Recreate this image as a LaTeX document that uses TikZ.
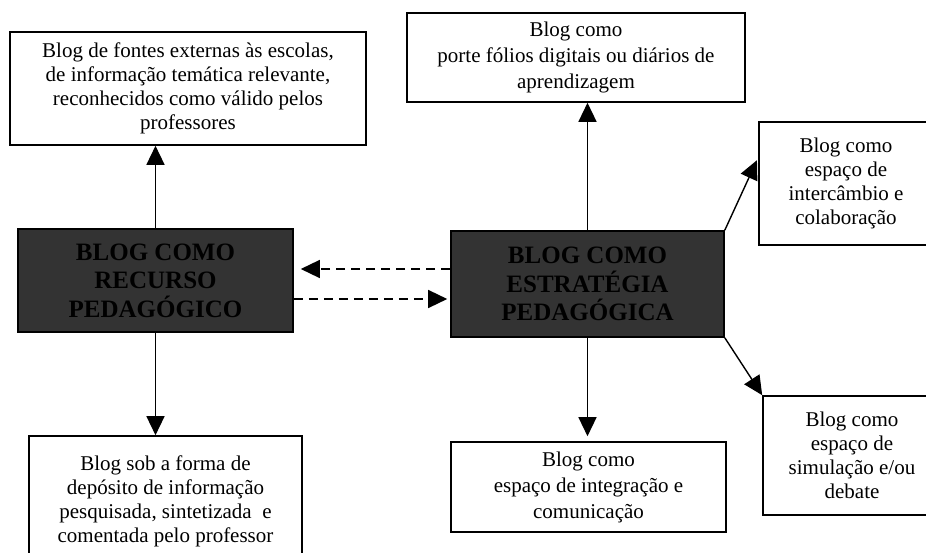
\documentclass[tikz,border=0pt]{standalone}
\usepackage{fontspec}
\setmainfont{Liberation Serif}
\usetikzlibrary{arrows.meta}
\definecolor{blogdark}{HTML}{333333}
\begin{document}
\begin{tikzpicture}[x=1pt,y=-1pt,
    caixa/.style={draw, line width=1.6pt, align=center, inner sep=0pt,
      font=\fontsize{21}{24}\selectfont},
    larga/.style={caixa, font=\fontsize{21}{26}\selectfont},
    central/.style={caixa, fill=blogdark, font=\fontsize{25}{28.5}\selectfont\bfseries},
    seta/.style={-{Triangle[length=19pt,width=18pt]}, line width=1.4pt},
    tracejada/.style={seta, dash pattern=on 9pt off 6pt}]
\useasboundingbox (0,0) rectangle (926,553);
\clip (0,0) rectangle (926,553);
% the two central blocks
\node[central, minimum width=275pt, minimum height=103pt] (recurso) at (155.5,280.5)
  {BLOG COMO\\RECURSO\\PEDAGÓGICO};
\node[central, minimum width=273pt, minimum height=106pt] (estrategia) at (587.5,284)
  {BLOG COMO\\ESTRATÉGIA\\PEDAGÓGICA};
% outer boxes
\node[caixa, minimum width=356pt, minimum height=113pt] (fontes) at (188,88.5)
  {Blog de fontes externas às escolas,\\de informação temática relevante,\\reconhecidos como válido pelos\\professores};
\node[caixa, minimum width=273pt, minimum height=130pt] (deposito) at (165.5,501)
  {Blog sob a forma de\\depósito de informação\\pesquisada, sintetizada\ \ e\\comentada pelo professor};
\node[larga, minimum width=338pt, minimum height=89pt] (portfolio) at (576,57.5)
  {Blog como\\porte fólios digitais ou diários de\\aprendizagem};
\node[caixa, minimum width=174pt, minimum height=123pt] (intercambio) at (846,183.5)
  {Blog como\\espaço de\\intercâmbio e\\colaboração};
\node[caixa, minimum width=178pt, minimum height=119pt] (simulacao) at (852,455.5)
  {Blog como\\espaço de\\simulação e/ou\\debate};
\node[larga, minimum width=275pt, minimum height=90pt] (integracao) at (588.5,487)
  {Blog como\\espaço de integração e\\comunicação};
% connectors
\draw[seta] (recurso.north) -- (recurso.north |- fontes.south);
\draw[seta] (recurso.south) -- (recurso.south |- deposito.north);
\draw[tracejada, shorten >=7pt] ([yshift=15pt]estrategia.west) -- ([yshift=15pt]estrategia.west -| recurso.east);
\draw[tracejada, shorten >=3pt] ([yshift=-18.5pt]recurso.east) -- ([yshift=-18.5pt]recurso.east -| estrategia.west);
\draw[seta] (estrategia.north) -- (estrategia.north |- portfolio.south);
\draw[seta, shorten >=5pt] (estrategia.south) -- (estrategia.south |- integracao.north);
\draw[seta, shorten >=3pt] (estrategia.north east) -- ([yshift=26pt]intercambio.west);
\draw[seta] (estrategia.south east) -- (simulacao.north west);
\end{tikzpicture}
\end{document}
